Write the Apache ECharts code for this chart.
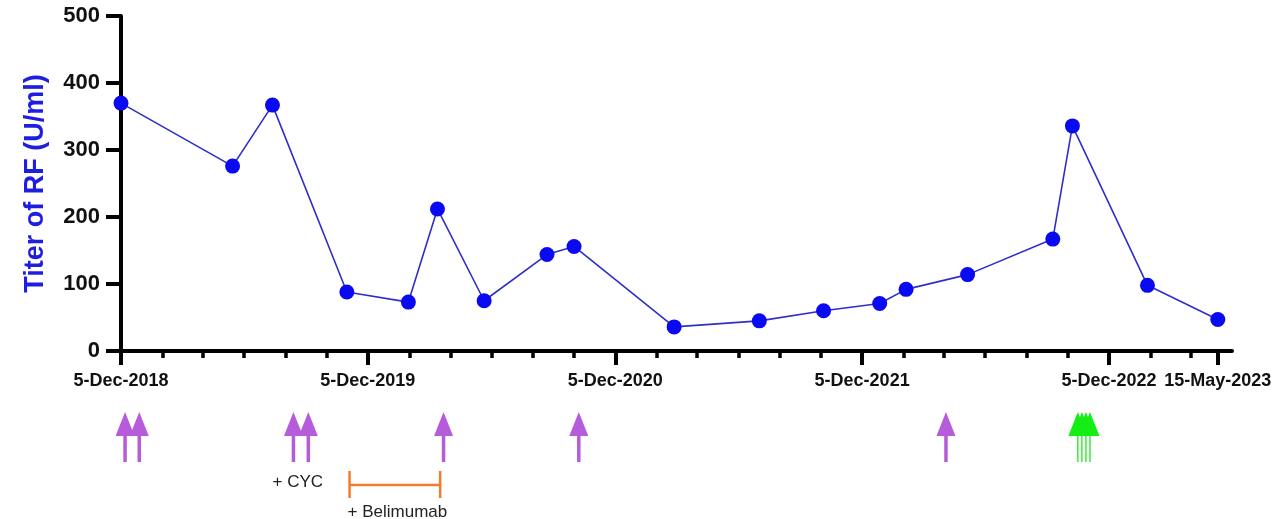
<!DOCTYPE html>
<html>
<head>
<meta charset="utf-8">
<script src="https://cdn.jsdelivr.net/npm/echarts@6/dist/echarts.min.js"></script>
<style>
html,body{margin:0;padding:0;background:#fff;}
#chart{width:1286px;height:519px;}
</style>
</head>
<body>
<div id="chart"></div>
<script>
// ---- data ----
const sampleDates = ['2018-12-05','2019-05-19','2019-07-17','2019-11-04','2020-02-03','2020-03-17','2020-05-25','2020-08-26','2020-10-05','2021-03-02','2021-07-06','2021-10-09','2021-12-31','2022-02-08','2022-05-10','2022-09-13','2022-10-12','2023-01-31','2023-05-15'];
const rfValues = [370, 276, 367, 88, 73, 212, 75, 144, 156, 36, 45, 60, 71, 92, 114, 167, 336, 98, 47];

const purpleArrowDates = ['2018-12-11','2019-01-01','2019-08-17','2019-09-08','2020-03-26','2020-10-12','2022-04-08'];
const greenArrowDates = ['2022-10-20','2022-10-26','2022-11-01','2022-11-07'];
const cycDates = ['2019-08-17','2019-09-08'];
const belimumabRange = ['2019-11-08','2020-03-21'];

const xMajorTickDates = ['2018-12-05','2019-12-05','2020-12-05','2021-12-05','2022-12-05','2023-05-15'];
const xMajorTickLabels = ['5-Dec-2018','5-Dec-2019','5-Dec-2020','5-Dec-2021','5-Dec-2022','15-May-2023'];
const xMinorTickDates = ['2019-02-05','2019-04-05','2019-06-05','2019-08-05','2019-10-05',
  '2020-02-05','2020-04-05','2020-06-05','2020-08-05','2020-10-05',
  '2021-02-05','2021-04-05','2021-06-05','2021-08-05','2021-10-05',
  '2022-02-05','2022-04-05','2022-06-05','2022-08-05','2022-10-05',
  '2023-02-05','2023-04-05'];
const xAxisStart = '2018-12-05';
const xAxisEnd = '2023-06-05';
const yTicks = [0, 100, 200, 300, 400, 500];
const yTitle = 'Titer of RF (U/ml)';
const cycLabel = '+ CYC';
const belimumabLabel = '+ Belimumab';

// ---- helpers ----
function ts(s){ const p = s.split('-').map(Number); return Date.UTC(p[0], p[1]-1, p[2]); }
const labelByTs = {};
xMajorTickDates.forEach((d,i)=>{ labelByTs[ts(d)] = xMajorTickLabels[i]; });

const PURPLE = '#B65BD9';
const GREEN = '#14EE14';
const ORANGE = '#F37B2B';

function arrowRenderer(color, shaftW){
  return function(params, api){
    const p = api.coord([api.value(0), 0]);
    const x = p[0], y0 = p[1];
    return {
      type:'group',
      children:[
        {type:'line', shape:{x1:x, y1:y0+82, x2:x, y2:y0+111}, style:{stroke:color, lineWidth:shaftW}},
        {type:'polygon', shape:{points:[[x, y0+61],[x-9.5, y0+85],[x+9.5, y0+85]]}, style:{fill:color}}
      ]
    };
  };
}

const chart = echarts.init(document.getElementById('chart'), null, {renderer:'canvas'});
const option = {
  animation:false,
  backgroundColor:'#ffffff',
  grid:{left:121, top:16, width:1111, height:335, containLabel:false, outerBoundsMode:'none'},
  xAxis:[
    {
      type:'value', min:ts(xAxisStart), max:ts(xAxisEnd),
      axisLine:{show:true, onZero:false, lineStyle:{color:'#000', width:4}},
      axisTick:{show:true, customValues:xMajorTickDates.map(ts), length:14, lineStyle:{color:'#000', width:4}},
      axisLabel:{show:true, customValues:xMajorTickDates.map(ts), formatter:(v)=>labelByTs[v] || '',
        fontFamily:'Liberation Sans, Arial, sans-serif', fontWeight:'bold', fontSize:18, color:'#111', margin:21},
      splitLine:{show:false}
    },
    {
      type:'value', min:ts(xAxisStart), max:ts(xAxisEnd), position:'bottom',
      axisLine:{show:false, onZero:false},
      axisTick:{show:true, customValues:xMinorTickDates.map(ts), length:7, lineStyle:{color:'#000', width:3.5}},
      axisLabel:{show:false},
      splitLine:{show:false}
    }
  ],
  yAxis:{
    type:'value', min:yTicks[0], max:yTicks[yTicks.length-1], interval:yTicks[1]-yTicks[0],
    name:yTitle, nameLocation:'middle', nameGap:72,
    nameTextStyle:{fontFamily:'Liberation Sans, Arial, sans-serif', fontWeight:'bold', fontSize:27, color:'#1E1EE0'},
    axisLine:{show:true, lineStyle:{color:'#000', width:4}},
    axisTick:{show:true, length:15, lineStyle:{color:'#000', width:4}},
    axisLabel:{fontFamily:'Liberation Sans, Arial, sans-serif', fontWeight:'bold', fontSize:22, color:'#111', margin:21},
    splitLine:{show:false}
  },
  series:[
    {
      type:'line', xAxisIndex:0,
      data: sampleDates.map((d,i)=>[ts(d), rfValues[i]]),
      lineStyle:{color:'#2F2FC8', width:1.6},
      symbol:'circle', symbolSize:15,
      itemStyle:{color:'#0A0AF2'},
      z:5
    },
    {
      type:'custom', xAxisIndex:0, clip:false,
      data: purpleArrowDates.map(d=>[ts(d), 0]),
      renderItem: arrowRenderer(PURPLE, 3.5), z:3
    },
    {
      type:'custom', xAxisIndex:0, clip:false,
      data: greenArrowDates.map(d=>[ts(d), 0]),
      renderItem: arrowRenderer(GREEN, 1.3), z:3
    },
    {
      type:'custom', xAxisIndex:0, clip:false,
      data: [[ts(cycDates[0]), ts(cycDates[1])]],
      encode:{x:[0,1]},
      renderItem: function(params, api){
        const a = api.coord([api.value(0), 0]);
        const b = api.coord([api.value(1), 0]);
        const x = (a[0]+b[0])/2 - 3;
        return {type:'text', style:{text:cycLabel, x:x, y:a[1]+131, align:'center', verticalAlign:'middle',
          font:'17px "Liberation Sans", Arial, sans-serif', fill:'#222'}};
      }, z:3
    },
    {
      type:'custom', xAxisIndex:0, clip:false,
      data: [[ts(belimumabRange[0]), ts(belimumabRange[1])]],
      encode:{x:[0,1]},
      renderItem: function(params, api){
        const a = api.coord([api.value(0), 0]);
        const b = api.coord([api.value(1), 0]);
        const y0 = a[1];
        const st = {stroke:ORANGE, lineWidth:2.5};
        return {type:'group', children:[
          {type:'line', shape:{x1:a[0], y1:y0+134, x2:b[0], y2:y0+134}, style:st},
          {type:'line', shape:{x1:a[0], y1:y0+120, x2:a[0], y2:y0+147}, style:st},
          {type:'line', shape:{x1:b[0], y1:y0+120, x2:b[0], y2:y0+147}, style:st},
          {type:'text', style:{text:belimumabLabel, x:a[0]-2, y:y0+161, align:'left', verticalAlign:'middle',
            font:'17px "Liberation Sans", Arial, sans-serif', fill:'#222'}}
        ]};
      }, z:3
    }
  ]
};
chart.setOption(option);
</script>
</body>
</html>
